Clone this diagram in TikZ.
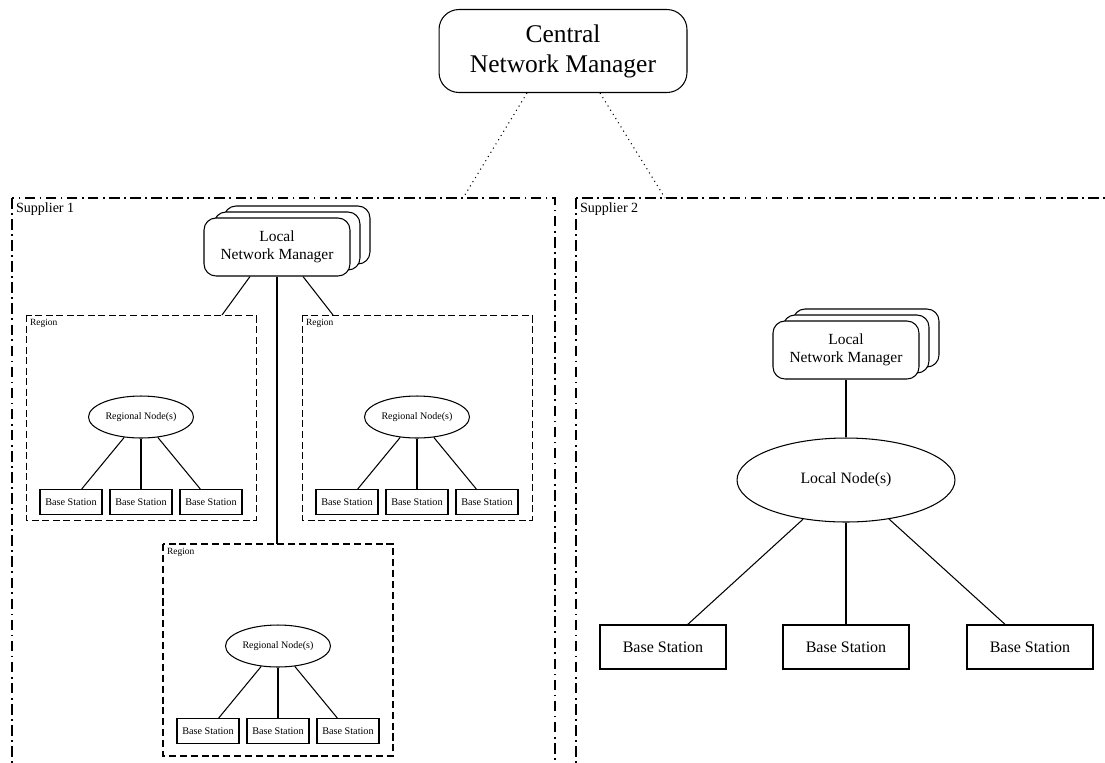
\documentclass[tikz,border=0pt]{standalone}
\usepackage{fontspec}
\setmainfont{Liberation Serif}
\usetikzlibrary{shapes.geometric}
\usetikzlibrary{calc}

\begin{document}
\begin{tikzpicture}[x=0.02cm,y=-0.02cm,line width=0.6pt,
    central/.style={draw,fill=white,rounded corners=0.4cm,minimum width=4.96cm,minimum height=1.66cm,
      inner sep=0pt,align=center,font=\fontsize{14.5}{17}\selectfont},
    mgr/.style={draw,fill=white,rounded corners=0.24cm,minimum width=2.92cm,minimum height=1.16cm,
      inner sep=0pt,align=center,font=\fontsize{8.8}{10.4}\selectfont},
    regnode/.style={draw,ellipse,minimum width=2.1cm,minimum height=0.84cm,inner sep=0pt,
      font=\fontsize{5.7}{7}\selectfont},
    locnode/.style={draw,ellipse,minimum width=4.36cm,minimum height=1.68cm,inner sep=0pt,
      font=\fontsize{9}{11}\selectfont},
    bsmall/.style={draw,minimum width=1.24cm,minimum height=0.5cm,inner sep=0pt,
      font=\fontsize{5.8}{7}\selectfont},
    bbig/.style={draw,minimum width=2.52cm,minimum height=0.88cm,inner sep=0pt,
      font=\fontsize{9.1}{11}\selectfont},
    supbox/.style={line width=1.1pt,dash pattern=on 6pt off 2.5pt on 1pt off 2.5pt},
    regbox/.style={line width=0.45pt,dash pattern=on 4pt off 2pt},
    regboxb/.style={line width=1.1pt,dash pattern=on 4pt off 2.2pt},
    dotlink/.style={dash pattern=on 0.6pt off 2.2pt},
    suplabel/.style={anchor=north west,inner sep=2pt,font=\fontsize{8}{10}\selectfont},
    reglabel/.style={anchor=north west,inner sep=2pt,font=\fontsize{5.4}{6}\selectfont}]

  \useasboundingbox (0,0) rectangle (1105,762);
  \clip (0,0) rectangle (1105,762);

  \node[central] (cnm) at (563,51) {Central\\Network Manager};

  % suppliers
  \draw[supbox] (12,198) rectangle (555,900);
  \draw[supbox] (576,198) rectangle (1200,900);
  \node[suplabel] (sup1) at (12,199) {Supplier 1};
  \node[suplabel] (sup2) at (576,199) {Supplier 2};
  \coordinate (sa) at (463,198);
  \coordinate (sb) at (665,198);
  \draw[dotlink] ($(cnm.south)+(-36,0)$) -- (sa);
  \draw[dotlink] ($(cnm.south)+(37,0)$) -- (sb);

  % supplier 1
  \foreach \s in {2,1} {
    \node[mgr] (lnma\s) at (277+10*\s,247-6*\s) {};
  }
  \node[mgr] (lnma) at (277,247) {Local\\Network Manager};

  \foreach \n/\cx/\ty/\bh/\st in {1/141/315/205/regbox, 2/417/315/205/regbox, 3/278/544/212/regboxb} {
    \draw[\st] (\cx-115,\ty) rectangle (\cx+115,\ty+\bh);
    \node[reglabel] (rl\n) at (\cx-115,\ty) {Region};
    \node[regnode] (rn\n) at (\cx,\ty+102) {Regional Node(s)};
    \foreach \d/\k in {-70/1,0/2,70/3} {
      \node[bsmall,fill=white] (bs\n\k) at (\cx+\d,\ty+187) {Base Station};
      \draw (rn\n) -- (bs\n\k);
    }
  }

  \coordinate (lka) at (222,315);
  \coordinate (lkb) at (277,544);
  \coordinate (lkc) at (333,315);
  \draw ($(lnma.south)+(-27,0)$) -- (lka);
  \draw (lnma.south) -- (lkb);
  \draw ($(lnma.south)+(26,0)$) -- (lkc);

  % supplier 2
  \foreach \s in {2,1} {
    \node[mgr] (lnmb\s) at (846+10*\s,350-6*\s) {};
  }
  \node[mgr] (lnmb) at (846,350) {Local\\Network Manager};
  \node[locnode] (ln) at (846,480) {Local Node(s)};
  \draw (lnmb) -- (ln);
  \foreach \x/\k in {663/1,846/2,1030/3} {
    \node[bbig] (bb\k) at (\x,647) {Base Station};
    \draw (ln) -- (bb\k);
  }
\end{tikzpicture}
\end{document}
